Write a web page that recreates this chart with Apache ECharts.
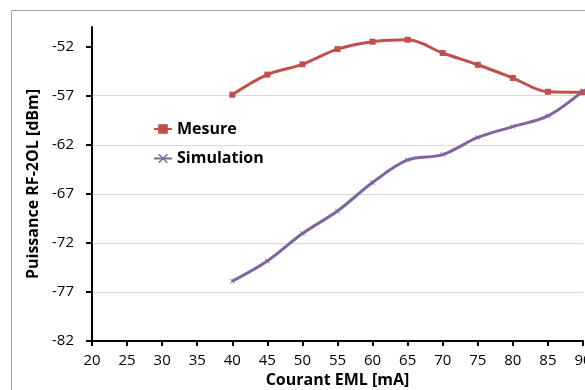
<!DOCTYPE html>
<html>
<head>
<meta charset="utf-8">
<script src="https://cdn.jsdelivr.net/npm/echarts@6/dist/echarts.min.js"></script>
<style>html,body{margin:0;padding:0;background:#fff}#c{width:585px;height:390px}</style>
</head>
<body>
<div id="c"></div>
<script>
var xValues = [40, 45, 50, 55, 60, 65, 70, 75, 80, 85, 90];
var mesure = [-56.9, -54.85, -53.8, -52.25, -51.5, -51.3, -52.65, -53.85, -55.2, -56.6, -56.65];
var simulation = [-75.9, -73.85, -71.05, -68.75, -65.85, -63.55, -63.0, -61.25, -60.15, -59.05, -56.5];
var yTicks = [-82, -77, -72, -67, -62, -57, -52];
var xTicks = [20, 25, 30, 35, 40, 45, 50, 55, 60, 65, 70, 75, 80, 85, 90];
var FONT = '"Open Sans", sans-serif';

function pairs(xs, ys) { return xs.map(function (x, i) { return [x, ys[i]]; }); }

var chart = echarts.init(document.getElementById('c'));
chart.setOption({
  animation: false,
  backgroundColor: '#ffffff',
  graphic: [{
    type: 'rect', silent: true, z: -1,
    shape: { x: 11.5, y: 10.5, width: 800, height: 600 },
    style: { fill: 'none', stroke: '#a6a6a6', lineWidth: 1 }
  }],
  grid: { left: 92, right: 2, top: 27, bottom: 49, containLabel: false, outerBoundsMode: 'none' },
  xAxis: {
    type: 'value', min: 20, max: 90, interval: 5,
    name: 'Courant EML [mA]', nameLocation: 'middle', nameGap: 26,
    nameTextStyle: { fontFamily: FONT, fontSize: 16, fontWeight: 'bold', color: '#000' },
    axisLine: { show: true, onZero: false, lineStyle: { color: '#000', width: 2 } },
    axisTick: { show: true, length: 5, lineStyle: { color: '#000', width: 2 }, customValues: xTicks },
    axisLabel: { fontFamily: FONT, fontSize: 15, color: '#000', margin: 12, customValues: xTicks, hideOverlap: false },
    splitLine: { show: false }
  },
  yAxis: {
    type: 'value', min: -82, max: -50, interval: 5,
    name: 'Puissance RF-2OL [dBm]', nameLocation: 'middle', nameGap: 43, nameRotate: 90,
    nameTextStyle: { fontFamily: FONT, fontSize: 16, fontWeight: 'bold', color: '#000' },
    axisLine: { show: true, onZero: false, lineStyle: { color: '#000', width: 2 } },
    axisTick: { show: true, length: 6, lineStyle: { color: '#000', width: 2 }, customValues: yTicks },
    axisLabel: { fontFamily: FONT, fontSize: 15, color: '#000', margin: 18, customValues: yTicks },
    splitLine: { show: true, showMinLine: false, showMaxLine: false, lineStyle: { color: '#d9d9d9', width: 1 } }
  },
  legend: {
    orient: 'vertical', left: 148, top: 116, itemWidth: 18, itemHeight: 12, itemGap: 13.5,
    textStyle: { fontFamily: FONT, fontSize: 16, fontWeight: 'bold', color: '#000', lineHeight: 16 },
    data: ['Mesure', 'Simulation']
  },
  series: [{
    name: 'Mesure', type: 'line', smooth: 0.35,
    data: pairs(xValues, mesure),
    symbol: 'rect', symbolSize: 6,
    itemStyle: { color: '#c0504d' },
    lineStyle: { color: '#c0504d', width: 3 }
  }, {
    name: 'Simulation', type: 'line', smooth: 0.35,
    data: pairs(xValues, simulation),
    symbol: 'path://M0,1L1,0L5,4L9,0L10,1L6,5L10,9L9,10L5,6L1,10L0,9L4,5Z', symbolSize: 5,
    itemStyle: { color: '#8064a2' },
    lineStyle: { color: '#8064a2', width: 3 }
  }]
});
</script>
</body>
</html>
